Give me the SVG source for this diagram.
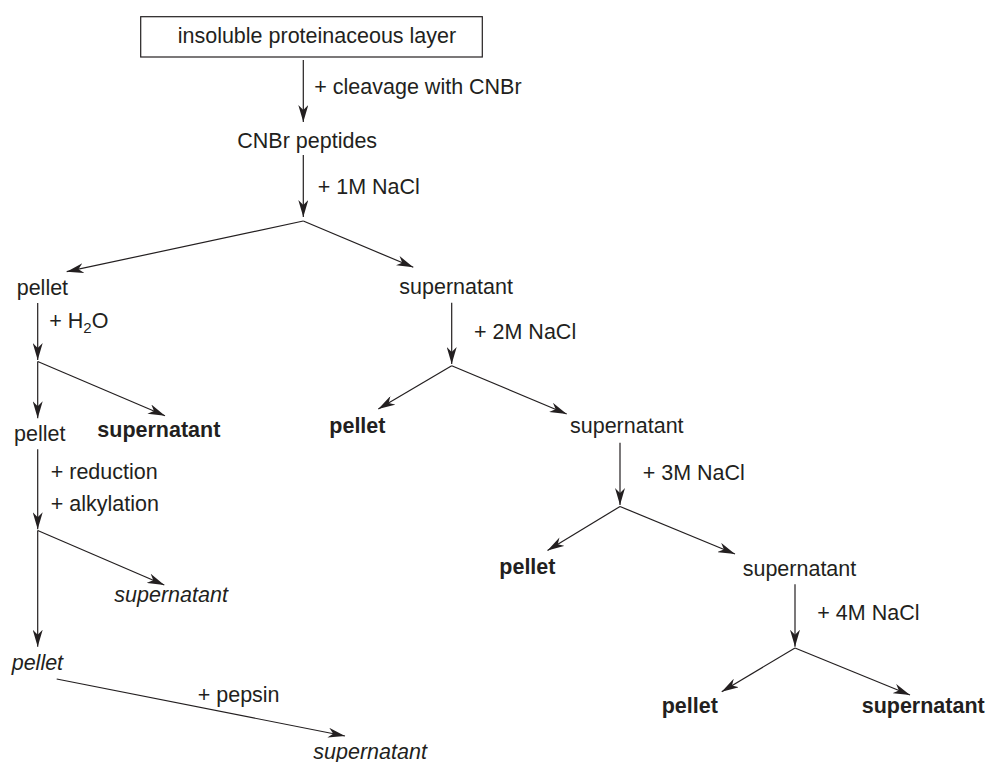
<svg xmlns="http://www.w3.org/2000/svg" width="988" height="762" viewBox="0 0 988 762">
<style>
text{font-family:"Liberation Sans",Arial,sans-serif;font-size:21.5px;fill:#231f20}
.b{font-weight:bold}
.i{font-style:italic}
.c line{stroke:#231f20;stroke-width:1.2;fill:none}
.a{marker-end:url(#ah)}
</style>
<defs>
<marker id="ah" markerUnits="userSpaceOnUse" viewBox="0 0 17 10" markerWidth="17" markerHeight="10" refX="17" refY="5" orient="auto">
<path d="M0,0 L17,5 L0,10 L5,5 Z" fill="#231f20"/>
</marker>
</defs>
<rect width="988" height="762" fill="#fff"/>
<g class="c" id="connectors">
<line class="a" x1="303.3" y1="60" x2="303.3" y2="122"/>
<line class="a" x1="303.3" y1="155" x2="303.3" y2="217"/>
<line class="a" x1="303.3" y1="221" x2="66.7" y2="271.7"/>
<line class="a" x1="303.3" y1="221" x2="413.3" y2="267.3"/>
<line class="a" x1="37.7" y1="303" x2="37.7" y2="360"/>
<line class="a" x1="37.7" y1="361.5" x2="165" y2="415.7"/>
<line class="a" x1="37.7" y1="361.5" x2="37.7" y2="418.3"/>
<line class="a" x1="37.7" y1="449.3" x2="37.7" y2="529.3"/>
<line class="a" x1="37.7" y1="530.5" x2="164.3" y2="585"/>
<line class="a" x1="37.7" y1="530.5" x2="37.7" y2="646.7"/>
<line class="a" x1="56.7" y1="679" x2="345" y2="736"/>
<line class="a" x1="451.7" y1="302.7" x2="451.7" y2="364"/>
<line class="a" x1="451.7" y1="365.7" x2="378.3" y2="409"/>
<line class="a" x1="451.7" y1="365.7" x2="566.7" y2="414"/>
<line class="a" x1="620" y1="442.7" x2="620" y2="505"/>
<line class="a" x1="620" y1="506.5" x2="547.5" y2="550.5"/>
<line class="a" x1="620" y1="506.5" x2="735" y2="554"/>
<line class="a" x1="795" y1="584.3" x2="795" y2="646.7"/>
<line class="a" x1="795" y1="648" x2="721.7" y2="691.7"/>
<line class="a" x1="795" y1="648" x2="910" y2="695"/>
</g>
<g id="labels">
<text x="314.3" y="94">+ cleavage with CNBr</text>
<text x="317.7" y="194">+ 1M NaCl</text>
<text x="49.3" y="328.3">+ H<tspan font-size="15" dy="5">2</tspan><tspan dy="-5">O</tspan></text>
<text x="50.7" y="479.3">+ reduction</text>
<text x="50.7" y="510.7">+ alkylation</text>
<text x="197.7" y="702.3">+ pepsin</text>
<text x="474" y="339.3">+ 2M NaCl</text>
<text x="642.7" y="480">+ 3M NaCl</text>
<text x="817.3" y="620">+ 4M NaCl</text>
</g>
<g id="n-start">
<rect x="140.7" y="16.7" width="341.6" height="40.3" fill="#fff" stroke="#231f20" stroke-width="1.2"/>
<text x="177.7" y="42.7">insoluble proteinaceous layer</text>
</g>
<g id="n-cnbr"><text x="237.3" y="148.3">CNBr peptides</text></g>
<g id="n-pellet1"><text x="16.7" y="295">pellet</text></g>
<g id="n-super1"><text x="399.3" y="293.5">supernatant</text></g>
<g id="n-pellet2"><text x="14" y="440.7">pellet</text></g>
<g id="n-super2"><text class="b" x="97.3" y="436.7">supernatant</text></g>
<g id="n-super3"><text class="i" x="114.3" y="601.7">supernatant</text></g>
<g id="n-pellet3"><text class="i" x="11.7" y="670">pellet</text></g>
<g id="n-super4"><text class="i" x="313.3" y="758.5">supernatant</text></g>
<g id="n-pellet4"><text class="b" x="329.3" y="432.7">pellet</text></g>
<g id="n-super5"><text x="570" y="432.7">supernatant</text></g>
<g id="n-pellet5"><text class="b" x="499.3" y="574">pellet</text></g>
<g id="n-super6"><text x="742.7" y="576">supernatant</text></g>
<g id="n-pellet6"><text class="b" x="661.7" y="712.7">pellet</text></g>
<g id="n-super7"><text class="b" x="861.7" y="712.7">supernatant</text></g>
</svg>
